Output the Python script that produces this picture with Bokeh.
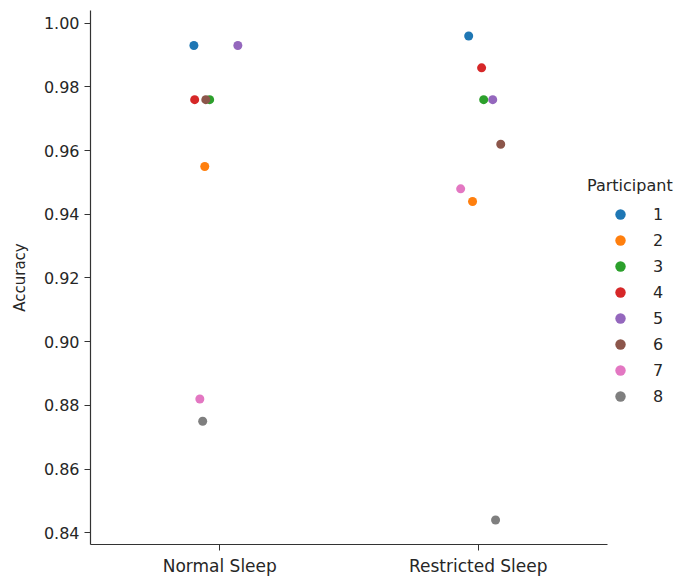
from bokeh.plotting import figure
from bokeh.models import (ColumnDataSource, Range1d, FixedTicker, Legend, LegendItem,
                          NumeralTickFormatter)
from bokeh.embed import file_html
from bokeh.resources import INLINE

# ---- data ----
conditions = ["Normal Sleep", "Restricted Sleep"]
participants = [1, 2, 3, 4, 5, 6, 7, 8]
normal_acc = [0.993, 0.955, 0.976, 0.976, 0.993, 0.976, 0.882, 0.875]
restricted_acc = [0.996, 0.944, 0.976, 0.986, 0.976, 0.962, 0.948, 0.844]
# strip-plot jitter of each point (in category units), as seen in the reference
normal_jitter = [-0.10, -0.058, -0.039, -0.097, 0.07, -0.054, -0.077, -0.066]
restricted_jitter = [-0.037, -0.022, 0.021, 0.013, 0.056, 0.087, -0.068, 0.067]
y_ticks = [0.84, 0.86, 0.88, 0.90, 0.92, 0.94, 0.96, 0.98, 1.00]

palette = ["#1f77b4", "#ff7f0e", "#2ca02c", "#d62728",
           "#9467bd", "#8c564b", "#e377c2", "#7f7f7f"]

FONT = "DejaVu Sans"
TXT = "#262626"

# frame spans to the right edge so the legend is not clipped;
# the x axis line is bounded to the category span
p = figure(width=683, height=578, output_backend="svg", toolbar_location=None,
           x_range=Range1d(-0.5, 1.794), y_range=Range1d(0.8363, 1.0040),
           min_border_left=90, min_border_right=0, min_border_top=10,
           min_border_bottom=30)
p.outline_line_color = None
p.xgrid.visible = False
p.ygrid.visible = False
p.background_fill_color = "white"
p.border_fill_color = "white"

legend_items = []
for i, part in enumerate(participants):
    xs = [0 + normal_jitter[i], 1 + restricted_jitter[i]]
    ys = [normal_acc[i], restricted_acc[i]]
    src = ColumnDataSource(dict(x=xs, y=ys))
    r = p.scatter("x", "y", source=src, size=9, fill_color=palette[i],
                  line_color=palette[i], line_width=0)
    legend_items.append(LegendItem(label=str(part), renderers=[r]))

# axes
p.xaxis.ticker = FixedTicker(ticks=list(range(len(conditions))))
p.xaxis.major_label_overrides = {i: c for i, c in enumerate(conditions)}
p.xaxis.bounds = (-0.5, len(conditions) - 0.5)
p.yaxis.ticker = FixedTicker(ticks=y_ticks)
p.yaxis.formatter = NumeralTickFormatter(format="0.00")
p.yaxis.axis_label = "Accuracy"

for ax in (p.xaxis[0], p.yaxis[0]):
    ax.minor_tick_line_color = None
    ax.major_tick_in = 0
    ax.major_tick_out = 6
    ax.major_tick_line_color = "#333333"
    ax.axis_line_color = "#333333"
    ax.axis_line_width = 1.2
    ax.major_label_text_font = FONT
    ax.major_label_text_font_size = "16px"
    ax.major_label_text_color = TXT
    ax.major_label_standoff = 5

p.xaxis.major_label_text_font_size = "17px"

p.yaxis.axis_label_text_font = FONT
p.yaxis.axis_label_text_font_size = "15px"
p.yaxis.axis_label_text_font_style = "normal"
p.yaxis.axis_label_text_color = TXT
p.yaxis.axis_label_standoff = 12

# legend marker size = 0.4 * min(glyph_width, glyph_height)
legend = Legend(items=legend_items, title="Participant",
                location=(497, 135),
                title_text_font=FONT, title_text_font_size="16px",
                title_text_font_style="normal", title_text_color=TXT,
                label_text_font=FONT, label_text_font_size="16px",
                label_text_color=TXT,
                glyph_width=66, glyph_height=26, label_height=26,
                label_standoff=0, spacing=0, padding=0, margin=0,
                title_standoff=6,
                border_line_color=None, background_fill_alpha=0)
p.add_layout(legend, "center")

open("out.html", "w").write(file_html(p, INLINE))
